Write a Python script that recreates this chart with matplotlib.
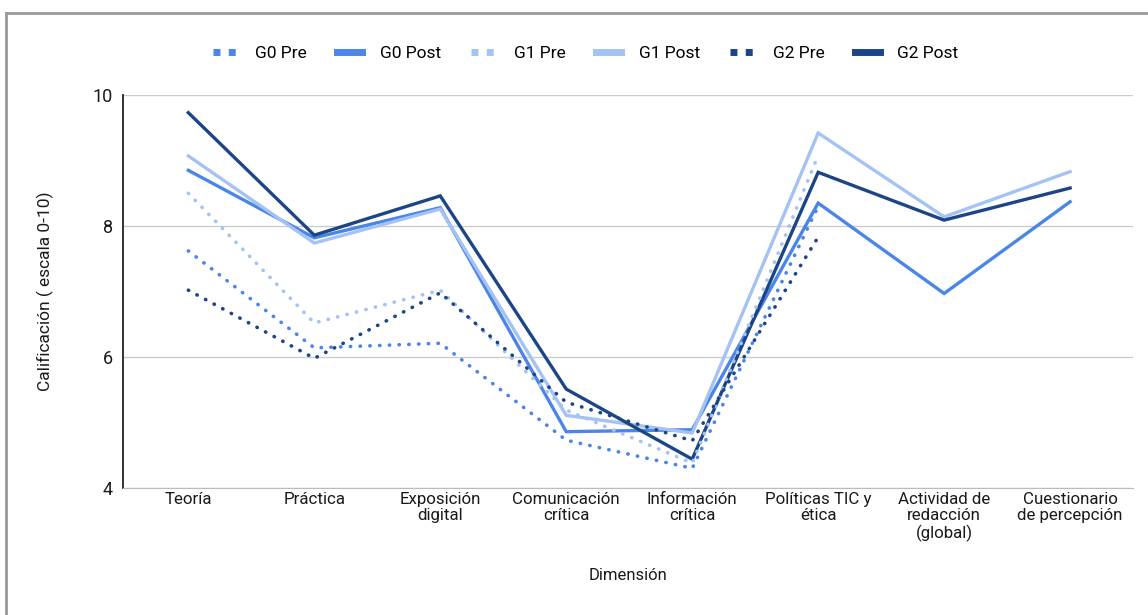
import matplotlib.pyplot as plt
from matplotlib.lines import Line2D
import numpy as np

plt.rcParams['font.family'] = ['Roboto', 'DejaVu Sans']

dimensiones = ["Teoría", "Práctica", "Exposición\ndigital", "Comunicación\ncrítica",
               "Información\ncrítica", "Políticas TIC y\nética", "Actividad de\nredacción\n(global)",
               "Cuestionario\nde percepción"]

# pre-test only covers the first six dimensions
g0_pre = [7.62, 6.14, 6.21, 4.73, 4.30, 8.30]
g0_post = [8.85, 7.82, 8.28, 4.86, 4.89, 8.35, 6.97, 8.37]
g1_pre = [8.50, 6.52, 7.02, 5.19, 4.38, 9.08]
g1_post = [9.07, 7.74, 8.26, 5.11, 4.84, 9.42, 8.14, 8.83]
g2_pre = [7.02, 5.98, 6.98, 5.31, 4.72, 7.83]
g2_post = [9.73, 7.86, 8.46, 5.51, 4.44, 8.82, 8.09, 8.58]

c_g0 = "#4a86e8"
c_g1 = "#a4c2f4"
c_g2 = "#1c4587"
txt = "#1a1a1a"

series = [
    ("G0 Pre", g0_pre, c_g0, True),
    ("G0 Post", g0_post, c_g0, False),
    ("G1 Pre", g1_pre, c_g1, True),
    ("G1 Post", g1_post, c_g1, False),
    ("G2 Pre", g2_pre, c_g2, True),
    ("G2 Post", g2_post, c_g2, False),
]

fig = plt.figure(figsize=(11.48, 6.15), dpi=100)
ax = fig.add_axes([0.107, 0.2065, 0.880, 0.639])

# draw post lines first, dotted pre lines on top
order = [1, 3, 5, 0, 2, 4]
for i in order:
    name, vals, col, pre = series[i]
    x = np.arange(len(vals))
    if pre:
        ax.plot(x, vals, color=col, lw=2.6, linestyle=(0, (0.1, 2.6)),
                dash_capstyle='round', zorder=3)
    else:
        ax.plot(x, vals, color=col, lw=2.4, solid_joinstyle='miter', zorder=2)

ax.set_xlim(-0.52, 7.5)
ax.set_ylim(4, 10)
ax.set_yticks([4, 6, 8, 10])
ax.set_xticks(np.arange(len(dimensiones)))
ax.set_xticklabels(dimensiones, fontsize=12.2, color=txt, linespacing=1.1)
ax.tick_params(axis='y', labelsize=13, length=0, pad=7, colors=txt)
ax.tick_params(axis='x', length=0, pad=3)
ax.grid(axis='y', color="#cccccc", lw=1)
ax.set_axisbelow(True)
for s in ["top", "right"]:
    ax.spines[s].set_visible(False)
ax.spines["left"].set_color("#222222")
ax.spines["left"].set_linewidth(1.3)
ax.spines["bottom"].set_color("#bbbbbb")

ax.set_xlabel("Dimensión", fontsize=12, color=txt, labelpad=19)
ax.set_ylabel("Calificación ( escala 0-10)", fontsize=12.5, color=txt, labelpad=28)

handles = []
for name, vals, col, pre in series:
    if pre:
        h = Line2D([], [], color=col, lw=5, linestyle=(0, (1.0, 1.2)))
    else:
        h = Line2D([], [], color=col, lw=5)
    handles.append(h)
fig.legend(handles, [s[0] for s in series], loc="center", bbox_to_anchor=(0.510, 0.913),
           ncol=6, frameon=False, fontsize=12.5, handlelength=1.45, columnspacing=1.75,
           handletextpad=1.0)

# outer frame
fig.add_artist(Line2D([6 / 1148, 6 / 1148], [0, 1 - 13 / 615], color="#999999", lw=2,
                      transform=fig.transFigure))
fig.add_artist(Line2D([6 / 1148, 1], [1 - 13 / 615, 1 - 13 / 615], color="#999999", lw=2,
                      transform=fig.transFigure))

fig.savefig("out.png", dpi=100)
